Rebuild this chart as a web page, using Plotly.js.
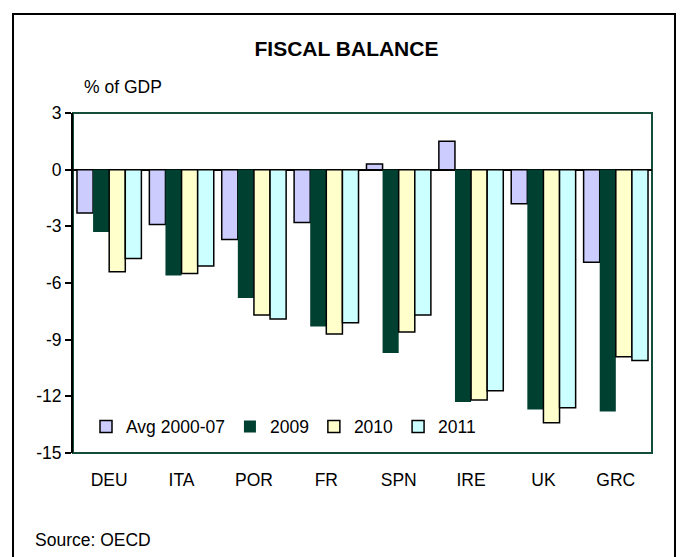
<!DOCTYPE html>
<html>
<head>
<meta charset="utf-8">
<script src="https://cdn.plot.ly/plotly-3.0.1.min.js"></script>
<style>html,body{margin:0;padding:0;background:#fff;}#chart{width:681px;height:557px;}</style>
</head>
<body>
<div id="chart"></div>
<script>
// Data
var categories = ["DEU", "ITA", "POR", "FR", "SPN", "IRE", "UK", "GRC"];
var seriesNames = ["Avg 2000-07", "2009", "2010", "2011"];
var avg2000_07 = [-2.3, -2.9, -3.7, -2.8, 0.3, 1.5, -1.8, -4.9];
var y2009 = [-3.3, -5.6, -6.8, -8.3, -9.7, -12.3, -12.7, -12.8];
var y2010 = [-5.4, -5.5, -7.7, -8.7, -8.6, -12.2, -13.4, -9.9];
var y2011 = [-4.7, -5.1, -7.9, -8.1, -7.7, -11.7, -12.6, -10.1];
var yTicks = [3, 0, -3, -6, -9, -12, -15];

var FONT = "Liberation Sans, Arial, sans-serif";
var colors = ["#ccccff", "#004030", "#ffffcc", "#ccffff"];
var lineW = [1.5, 0, 1.5, 1.5];
var values = [avg2000_07, y2009, y2010, y2011];

var traces = values.map(function (v, i) {
  return {
    type: "bar",
    name: seriesNames[i],
    x: categories,
    y: v,
    marker: { color: colors[i], line: { color: i === 1 ? colors[i] : "#000", width: lineW[i] } },
    hoverinfo: "x+y+name"
  };
});

// plot area: x 73..652, y 113..453
var L = 73, R = 652, T = 113, B = 453;
function px(x) { return (x - L) / (R - L); }
function py(y) { return (B - y) / (B - T); }

var layout = {
  width: 681, height: 557,
  margin: { l: L, r: 681 - R, t: T, b: 557 - B, pad: 0 },
  paper_bgcolor: "#fff", plot_bgcolor: "#fff",
  font: { family: FONT, size: 17.5, color: "#000" },
  title: {
    text: "<b>FISCAL BALANCE</b>",
    font: { family: FONT, size: 21, color: "#000" },
    x: 346.5 / 681, xanchor: "center", xref: "container",
    y: 1 - 48.5 / 557, yanchor: "middle", yref: "container"
  },
  barmode: "group",
  bargap: 0.11,
  bargroupgap: 0,
  showlegend: true,
  legend: {
    orientation: "h",
    x: px(86), xanchor: "left", xref: "paper",
    y: py(426.7), yanchor: "middle", yref: "paper",
    bgcolor: "rgba(0,0,0,0)",
    font: { family: FONT, size: 17.5, color: "#000" },
    traceorder: "normal"
  },
  xaxis: {
    type: "category",
    showgrid: false, zeroline: false, showline: false,
    ticks: "", ticklabelstandoff: 14,
    tickfont: { family: FONT, size: 17.5, color: "#000" },
    fixedrange: true
  },
  yaxis: {
    range: [-15, 3],
    tickvals: yTicks,
    ticktext: yTicks.map(String),
    ticks: "outside", ticklen: 6, tickwidth: 2, tickcolor: "#000",
    showline: true, linecolor: "#000", linewidth: 2,
    showgrid: false,
    zeroline: true, zerolinecolor: "#000", zerolinewidth: 2,
    tickfont: { family: FONT, size: 17.5, color: "#000" },
    fixedrange: true
  },
  shapes: [
    { type: "rect", xref: "paper", yref: "paper", x0: 0, x1: 1, y0: 0, y1: 1,
      line: { color: "#154d3c", width: 2 }, layer: "below" },
    { type: "rect", xref: "paper", yref: "paper", x0: px(13), x1: px(675), y0: py(600), y1: py(14),
      line: { color: "#000", width: 2 }, layer: "below" }
  ],
  annotations: [
    { text: "% of GDP", xref: "paper", yref: "paper", x: px(82), y: py(87),
      xanchor: "left", yanchor: "middle", showarrow: false,
      font: { family: FONT, size: 17.5, color: "#000" } },
    { text: "Source: OECD", xref: "paper", yref: "paper", x: px(32.5), y: py(540),
      xanchor: "left", yanchor: "middle", showarrow: false,
      font: { family: FONT, size: 17.5, color: "#000" } }
  ]
};

Plotly.newPlot("chart", traces, layout, { displayModeBar: false, staticPlot: true });
</script>
</body>
</html>
